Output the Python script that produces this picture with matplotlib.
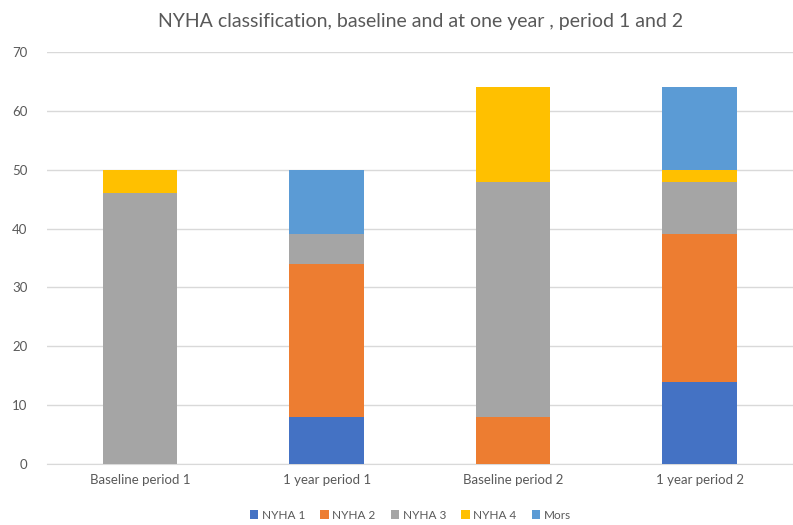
import matplotlib
matplotlib.use("Agg")
import matplotlib.pyplot as plt
import numpy as np

categories = ["Baseline period 1", "1 year period 1", "Baseline period 2", "1 year period 2"]
series_names = ["NYHA 1", "NYHA 2", "NYHA 3", "NYHA 4", "Mors"]
nyha1 = [0, 8, 0, 14]
nyha2 = [0, 26, 8, 25]
nyha3 = [46, 5, 40, 9]
nyha4 = [4, 0, 16, 2]
mors = [0, 11, 0, 14]
colors = ["#4472C4", "#ED7D31", "#A5A5A5", "#FFC000", "#5B9BD5"]

plt.rcParams["font.family"] = ["Lato", "DejaVu Sans"]

fig = plt.figure(figsize=(7.93, 5.25), dpi=100)
ax = fig.add_axes([0.059, 0.116, 0.941, 0.785])

x = np.arange(len(categories))
bottom = np.zeros(len(categories))
for name, vals, c in zip(series_names, [nyha1, nyha2, nyha3, nyha4, mors], colors):
    ax.bar(x, vals, width=0.4, bottom=bottom, color=c, label=name, zorder=3)
    bottom += np.array(vals)

ax.set_xlim(-0.5, 3.5)
ax.set_ylim(0, 70)
ax.set_yticks(range(0, 71, 10))
ax.set_xticks(x)
ax.set_xticklabels(categories)
ax.grid(axis="y", color="#D9D9D9", linewidth=1, zorder=0)
for s in ax.spines.values():
    s.set_visible(False)
ax.spines["bottom"].set_visible(True)
ax.spines["bottom"].set_color("#D9D9D9")
ax.tick_params(axis="both", length=0, colors="#595959", labelsize=9.5)
ax.tick_params(axis="y", pad=14)
ax.tick_params(axis="x", pad=7)

fig.suptitle("NYHA classification, baseline and at one year , period 1 and 2",
             x=0.53, y=0.975, fontsize=14, color="#595959")

ax.legend(loc="upper center", bbox_to_anchor=(0.487, -0.085), ncol=5, frameon=False,
          fontsize=8.5, handlelength=0.7, handleheight=0.7, handletextpad=0.3,
          columnspacing=1.3, labelcolor="#595959")

fig.savefig("out.png", dpi=100)
